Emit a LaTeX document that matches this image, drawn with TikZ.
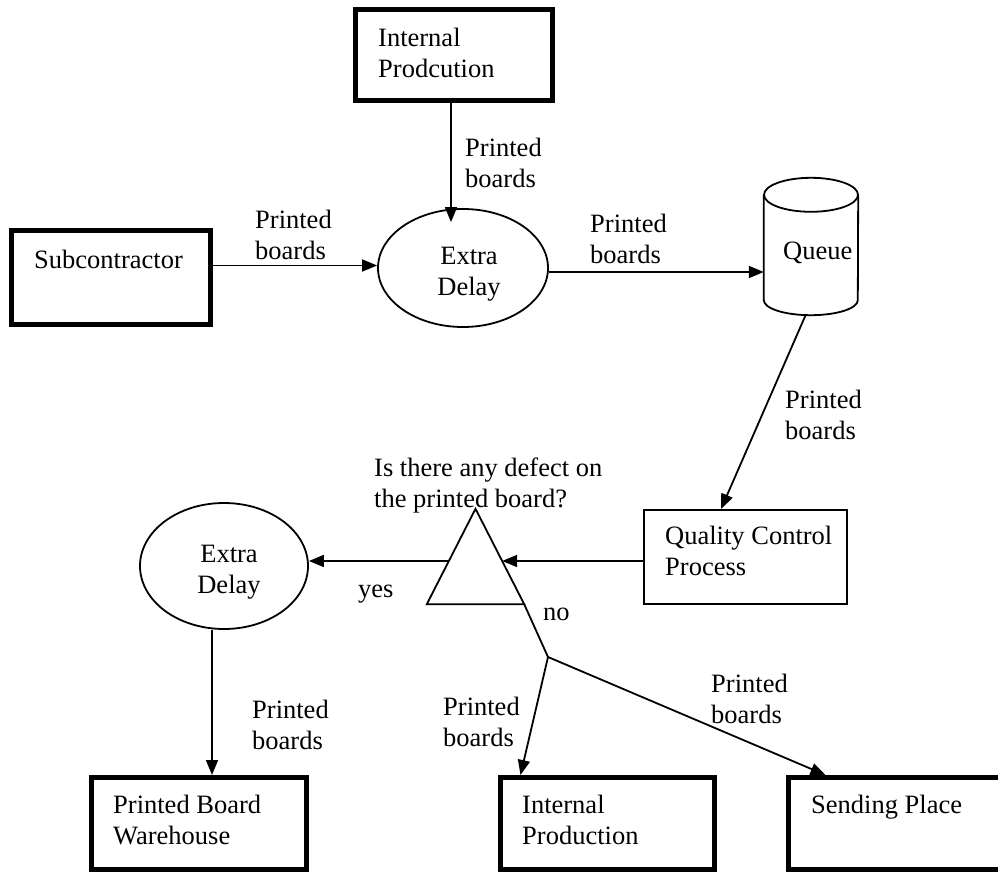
\documentclass[tikz,border=0pt]{standalone}
\usepackage{fontspec}
\setmainfont{Liberation Serif}
\usetikzlibrary{arrows.meta,calc,shapes.geometric}
\begin{document}
\begin{tikzpicture}[x=1pt,y=-1pt,
  every node/.style={font=\fontsize{26.5}{31}\selectfont},
  line/.style={line width=1.8pt},
  arr/.style={line width=1.8pt,-{Triangle[length=15pt,width=12pt]}},
  heavybox/.style={draw,line width=5pt,inner sep=0pt},
  plainbox/.style={draw,line width=2pt,inner sep=0pt},
  oval/.style={draw,ellipse,line width=1.8pt,inner sep=0pt},
  hidden/.style={inner sep=0pt},
  txt/.style={anchor=north west,align=left,inner sep=0pt},
  mid/.style={anchor=north,align=center,inner sep=0pt},
  word/.style={anchor=base west,inner sep=0pt}]
\useasboundingbox (0,0) rectangle (998,872);
\clip (0,0) rectangle (998,872);

% boxes
\node[heavybox,minimum width=197,minimum height=91] (ip1) at (454,55) {};
\node[txt] (ip1t) at (378,28) {Internal\\Prodcution};
\node[heavybox,minimum width=199,minimum height=94] (sub) at (111,277.5) {};
\node[txt] (subt) at (34,250) {Subcontractor};
\node[plainbox,minimum width=203,minimum height=94] (qc) at (745.5,557) {};
\node[txt] (qct) at (665,526) {Quality Control\\Process};
\node[heavybox,minimum width=215,minimum height=92] (wh) at (199,823.5) {};
\node[txt] (wht) at (113,795) {Printed Board\\Warehouse};
\node[heavybox,minimum width=214,minimum height=92] (ip2) at (607.5,823.5) {};
\node[txt] (ip2t) at (522,795) {Internal\\Production};
\node[heavybox,minimum width=222,minimum height=92] (send) at (899.5,823.5) {};
\node[txt] (sendt) at (811,795) {Sending Place};

% delay ovals
\node[oval,minimum width=170,minimum height=118] (ed1) at (463,268) {};
\node[mid] (ed1t) at (469,247) {Extra\\Delay};
\node[oval,minimum width=168,minimum height=126] (ed2) at (224,566) {};
\node[mid] (ed2t) at (229,545) {Extra\\Delay};

% queue cylinder
\node[hidden,minimum width=94,minimum height=105] (queue) at (811,247.5) {};
\draw[line] (queue.north west) -- (queue.south west)
  arc[start angle=180,end angle=360,x radius=47pt,y radius=15pt]
  -- (queue.north east);
\draw[line] (queue.north) ellipse[x radius=47pt,y radius=17pt];
\node[txt] (queuet) at (783,242) {Queue};

% decision triangle
\node[hidden,minimum width=97,minimum height=95] (dec) at (475.5,556.5) {};
\draw[line] (dec.south west) -- (dec.north) -- (dec.south east) -- cycle;
\coordinate (dr) at ($(dec.north)!0.547!(dec.south east)$);
\coordinate (dl) at ($(dec.north)!0.547!(dec.south west)$);
\coordinate (br) at (548,657);

% connectors
\draw[arr] ([xshift=-3]ip1.south) -- ([xshift=-12,yshift=-14]ed1.north);
\draw[arr] ([yshift=12]sub.east) -- ([yshift=12]sub.east -| ed1.west);
\draw[arr] ([yshift=-4]ed1.east) -- ([yshift=-4]ed1.east -| queue.west);
\draw[arr] ([xshift=-5,yshift=-14]queue.south) -- ([xshift=78]qc.north west);
\draw[arr] (dr -| qc.west) -- (dr);
\draw[arr] (dl) -- (dl -| ed2.east);
\draw[arr] ([xshift=-12]ed2.south) -- ([xshift=-12]ed2.south |- wh.north);
\draw[line] (dec.south east) -- (br);
\draw[arr] (br) -- ([xshift=22.5]ip2.north west);
\draw[arr] (br) -- ([xshift=39.5]send.north west);

% flow labels
\node[txt] (l1) at (465,138) {Printed\\boards};
\node[txt] (l2) at (255,210) {Printed\\boards};
\node[txt] (l3) at (590,214) {Printed\\boards};
\node[txt] (l4) at (785,390) {Printed\\boards};
\node[txt] (q) at (374,458) {Is there any defect on\\the printed board?};
\node[word] (yes) at (358,597) {yes};
\node[word] (no) at (543,620) {no};
\node[txt] (l5) at (252,700) {Printed\\boards};
\node[txt] (l6) at (443,697) {Printed\\boards};
\node[txt] (l7) at (711,674) {Printed\\boards};
\end{tikzpicture}
\end{document}
